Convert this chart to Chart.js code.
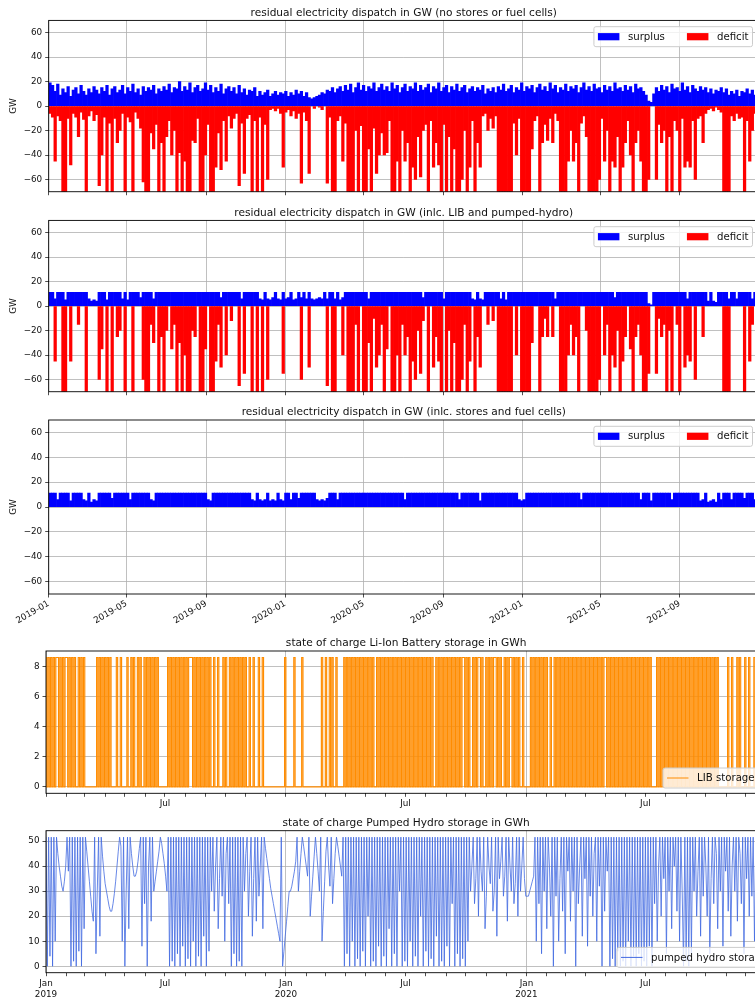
<!DOCTYPE html>
<html lang="en">
<head>
  <meta charset="utf-8">
  <title>residual electricity dispatch and storage state of charge</title>
  <style type="text/css">
    html, body {
      margin: 0;
      padding: 0;
      background-color: #ffffff;
      overflow: hidden;
    }
    #wrap {
      position: relative;
      width: 755px;
      height: 999px;
      overflow: hidden;
    }
    canvas {
      position: absolute;
      left: 0;
    }
  </style>
  <script src="https://cdn.jsdelivr.net/npm/chart.js@4.4.1/dist/chart.umd.min.js"></script>
</head>
<body>
  <div id="wrap">
    <canvas id="c1" width="780" height="200" style="top:0px"></canvas>
    <canvas id="c2" width="780" height="200" style="top:200px"></canvas>
    <canvas id="c3" width="780" height="235" style="top:400px"></canvas>
    <canvas id="c4" width="780" height="180" style="top:635px"></canvas>
    <canvas id="c5" width="780" height="184" style="top:815px"></canvas>
  </div>
  <script>
    // values, one per 4 days (dispatch) or 2 days (storage)
    const dispatchStep = 4;
    const libStep = 2;
    const phsStep = 2;

    const surplus1 = [19,17,12,18,9,14,11,16,8,13,
      15,10,17,12,9,14,11,16,13,10, 15,12,17,9,14,16,11,13,17,10,
      15,12,18,11,14,9,16,12,15,13, 17,10,14,12,16,13,18,11,15,14,
      20,12,16,13,19,11,15,17,12,14, 19,13,17,11,15,12,18,10,14,16,
      12,15,10,17,11,14,9,13,12,15, 8,12,9,11,13,8,10,12,9,11,
      10,12,8,11,9,13,10,12,8,11, 7,6,7,8,9,11,10,13,12,15,
      11,14,16,12,17,13,18,11,15,19, 13,17,12,16,14,19,12,15,18,13,
      16,12,19,14,17,11,15,18,12,16, 14,19,12,17,13,15,18,11,16,14,
      19,12,15,17,11,16,13,18,12,15, 17,11,14,16,12,15,13,17,10,14,
      12,15,11,16,13,18,12,14,17,11, 15,13,19,12,16,14,17,11,15,18,
      13,16,12,19,14,17,11,15,13,18, 12,16,14,17,11,15,19,13,16,12,
      18,14,15,11,17,13,16,12,19,14, 15,12,17,13,16,11,18,14,15,12,
      9,4,3,10,15,12,17,13,16,11, 18,14,15,12,19,13,16,11,17,14,
      12,16,13,15,11,14,10,13,12,15, 11,14,9,12,10,13,8,12,11,14,
      10,13,9,12];
    const deficit1 = [-6,-9,-45,-8,-12,-80,-80,-10,-48,-6,
      -9,-25,-5,-11,-80,-8,-4,-12,-7,-65, -40,-9,-80,-14,-80,-10,-30,-20,-6,-80,
      -9,-13,-80,-5,-10,-18,-62,-80,-80,-22, -35,-15,-80,-30,-80,-25,-12,-40,-20,-80,
      -38,-80,-45,-80,-80,-28,-30,-10,-80,-80, -40,-15,-80,-80,-50,-22,-52,-12,-45,-8,
      -18,-10,-6,-65,-14,-55,-10,-7,-80,-12, -80,-9,-80,-15,-60,-3,-2,-4,-2,-6,
      -50,-5,-3,-8,-4,-10,-6,-63,-5,-12, -55,0,-2,0,-1,-3,0,-63,-9,-80,
      -80,-12,-8,-45,-14,-80,-80,-80,-20,-80, -16,-80,-80,-35,-80,-18,-55,-40,-22,-40,
      -38,-12,-80,-80,-45,-80,-20,-45,-30,-80, -50,-60,-25,-58,-20,-15,-80,-12,-50,-30,
      -48,-80,-15,-80,-25,-80,-35,-80,-70,-60, -20,-80,-50,-12,-80,-30,-50,-8,-6,-20,
      -10,-18,-8,-80,-80,-80,-80,-80,-80,-14, -40,-10,-80,-80,-80,-80,-35,-12,-8,-80,
      -30,-15,-28,-10,-30,-6,-12,-80,-80,-80, -45,-20,-45,-30,-80,-14,-8,-25,-80,-80,
      -80,-80,-60,-10,-45,-20,-80,-45,-50,-25, -80,-50,-30,-12,-40,-80,-30,-20,-45,-80,
      -80,-60,0,0,-60,-15,-30,-20,-80,-25, -80,-12,-20,-80,-10,-50,-45,-50,-12,-60,
      -10,-8,-30,-6,-3,-2,-4,-1,-3,-5, -80,-80,-80,-8,-12,-6,-10,-9,-80,-12,
      -45,-20,-6,-30];

    const surplus2 = [11.3,11.3,6,11.3,11.3,11.3,5,11.3,11.3,11.3,
      11.3,11.3,11.3,11.3,11.3,6,4,5,4,11.3, 11.3,11.3,5,11.3,11.3,11.3,11.3,11.3,6,11.3,
      5,11.3,11.3,11.3,11.3,7,11.3,11.3,11.3,11.3, 6,11.3,11.3,11.3,11.3,11.3,11.3,11.3,11.3,11.3,
      11.3,11.3,11.3,11.3,11.3,11.3,11.3,11.3,11.3,11.3, 11.3,11.3,11.3,11.3,11.3,11.3,7,11.3,11.3,11.3,
      11.3,11.3,11.3,11.3,6,11.3,11.3,11.3,11.3,11.3, 11.3,6,5,11.3,6,5,7,11.3,6,5,
      11.3,6,7,11.3,5,6,11.3,7,11.3,6, 11.3,6,5,6,7,6,11.3,6,11.3,11.3,
      6,11.3,5,7,11.3,11.3,11.3,11.3,11.3,11.3, 11.3,11.3,11.3,6,11.3,11.3,11.3,11.3,11.3,11.3,
      11.3,11.3,11.3,11.3,11.3,11.3,11.3,11.3,11.3,11.3, 11.3,11.3,11.3,11.3,7,11.3,11.3,11.3,11.3,11.3,
      11.3,11.3,6,11.3,11.3,11.3,11.3,11.3,11.3,11.3, 11.3,11.3,11.3,6,5,11.3,6,5,11.3,11.3,
      11.3,11.3,11.3,11.3,6,11.3,5,11.3,11.3,11.3, 11.3,11.3,11.3,11.3,11.3,11.3,11.3,11.3,11.3,11.3,
      11.3,11.3,11.3,11.3,11.3,6,11.3,11.3,11.3,11.3, 11.3,11.3,11.3,11.3,11.3,11.3,11.3,11.3,11.3,11.3,
      11.3,11.3,11.3,11.3,11.3,11.3,11.3,11.3,7,11.3, 11.3,11.3,11.3,11.3,11.3,11.3,11.3,11.3,11.3,11.3,
      11.3,2,1,11.3,11.3,11.3,11.3,11.3,11.3,11.3, 11.3,11.3,11.3,11.3,11.3,11.3,6,11.3,11.3,11.3,
      11.3,11.3,11.3,11.3,4,11.3,4,3,11.3,11.3, 11.3,11.3,6,11.3,11.3,6,11.3,11.3,11.3,11.3,
      11.3,6,11.3,11.3];
    const deficit2 = [0,0,-45,0,0,-80,-80,0,-45,0,
      0,-15,0,0,-80,0,0,0,0,-60, -35,0,-80,0,-80,0,-25,-20,0,-80,
      0,0,-80,0,0,0,-60,-80,-80,-15, -30,0,-80,-25,-80,-20,0,-35,-15,-80,
      -30,-80,-40,-80,-80,-20,-25,0,-80,-80, -35,0,-80,-80,-45,-15,-50,0,-40,0,
      -12,0,0,-65,0,-55,0,0,-80,0, -80,0,-80,0,-60,0,0,0,0,0,
      -55,0,0,0,0,0,0,-60,0,0, -50,0,0,0,0,0,0,-65,0,-80,
      -80,0,0,-40,0,-80,-80,-80,-15,-80, 0,-80,-80,-30,-80,-10,-50,-40,-15,-70,
      -35,0,-80,-80,-40,-80,-15,-40,-25,-80, -45,-60,-20,-55,-12,0,-80,0,-50,-25,
      -45,-80,0,-80,-20,-80,-30,-80,-70,-60, -15,-80,-45,0,-80,-25,-50,0,0,-15,
      0,-12,0,-80,-80,-80,-80,-80,-80,0, -40,0,-80,-80,-80,-80,-30,0,0,-80,
      -25,-10,-25,0,-25,0,0,-80,-80,-80, -40,-15,-40,-25,-80,0,0,-20,-80,-80,
      -80,-80,-60,0,-40,-15,-80,-40,-50,-20, -80,-45,-25,0,-35,-80,-25,-15,-40,-80,
      -80,-55,0,0,-55,-10,-25,-15,-80,-20, -80,0,-15,-80,0,-50,-40,-45,0,-60,
      0,0,-25,0,0,0,0,0,0,0, -80,-80,-80,0,0,0,0,0,-80,0,
      -45,-15,0,-25];

    const surplus3 = [11.3,11.3,11.3,6,11.3,11.3,11.3,11.3,5,11.3,
      11.3,11.3,11.3,6,5,11.3,4,6,5,11.3, 11.3,11.3,11.3,11.3,7,11.3,11.3,11.3,11.3,11.3,
      11.3,6,11.3,11.3,11.3,11.3,11.3,11.3,11.3,6, 5,11.3,11.3,11.3,11.3,11.3,11.3,11.3,11.3,11.3,
      11.3,11.3,11.3,11.3,11.3,11.3,11.3,11.3,11.3,11.3, 11.3,6,5,11.3,11.3,11.3,11.3,11.3,11.3,11.3,
      11.3,11.3,11.3,11.3,11.3,11.3,11.3,11.3,6,5, 11.3,6,5,6,11.3,5,6,5,11.3,6,
      5,11.3,11.3,6,11.3,11.3,7,11.3,11.3,11.3, 11.3,11.3,11.3,6,5,6,5,7,11.3,11.3,
      11.3,6,11.3,11.3,11.3,11.3,11.3,11.3,11.3,11.3, 11.3,11.3,11.3,11.3,11.3,11.3,11.3,11.3,11.3,11.3,
      11.3,11.3,11.3,11.3,11.3,11.3,11.3,6,11.3,11.3, 11.3,11.3,11.3,11.3,11.3,11.3,11.3,11.3,11.3,11.3,
      11.3,11.3,11.3,11.3,11.3,11.3,11.3,11.3,6,11.3, 11.3,11.3,11.3,11.3,11.3,11.3,5,11.3,11.3,11.3,
      11.3,11.3,11.3,11.3,11.3,11.3,11.3,11.3,11.3,11.3, 11.3,6,5,6,11.3,11.3,11.3,11.3,11.3,11.3,
      11.3,11.3,11.3,11.3,11.3,11.3,11.3,11.3,11.3,11.3, 11.3,11.3,11.3,11.3,11.3,6,11.3,11.3,11.3,11.3,
      11.3,11.3,11.3,11.3,11.3,11.3,11.3,11.3,11.3,11.3, 11.3,11.3,11.3,11.3,11.3,11.3,11.3,11.3,6,11.3,
      11.3,11.3,5,11.3,11.3,11.3,11.3,11.3,11.3,11.3, 6,11.3,11.3,11.3,11.3,11.3,11.3,11.3,11.3,11.3,
      11.3,5,6,11.3,4,5,6,4,11.3,6, 11.3,11.3,11.3,6,11.3,11.3,11.3,11.3,7,11.3,
      11.3,11.3,6,11.3];
    const deficit3 = []; // fully covered by stores and fuel cells

    const libSoc = [8.6,0,8.6,0,8.6,0,8.6,0,8.6,8.6,0,8.6,0,8.6,0,8.6,8.6,0,8.6,0,
      8.6,0,8.6,0,0,8.6,0,8.6,0,8.6,0,0,0,0,0,0,0,0,0,8.6,
      0,8.6,0,8.6,0,8.6,0,8.6,0,8.6,0,0,0,0,8.6,0,0,8.6,0,0,
      0,0,8.6,0,0,8.6,0,8.6,0,0,8.6,0,8.6,0,0,8.6,0,8.6,0,8.6,
      0,8.6,0,8.6,0,8.6,0,0,0,0,0,0,0,8.6,0,8.6,0,8.6,0,8.6,
      0,8.6,0,8.6,0,8.6,0,8.6,0,8.6,8.6,8.6,0,8.6,0,8.6,0,8.6,0,8.6,
      0,8.6,0,8.6,0,8.6,0,0,8.6,0,0,8.6,0,0,0,8.6,0,8.6,0,0,
      8.6,0,8.6,0,8.6,0,8.6,0,8.6,0,8.6,0,8.6,0,0,8.6,0,0,8.6,0,
      0,0,8.6,0,0,8.6,0,0,0,0,0,0,0,0,0,0,0,0,0,0,
      0,0,8.6,0,0,0,0,0,0,8.6,0,0,0,0,0,8.6,0,0,0,0,
      0,0,0,0,0,0,0,0,0,0,8.6,0,0,8.6,0,0,8.6,0,8.6,0,
      0,8.6,0,0,0,0,0,8.6,0,8.6,0,8.6,0,8.6,0,8.6,0,8.6,0,8.6,
      0,8.6,0,8.6,0,8.6,0,8.6,0,8.6,0,0,8.6,0,8.6,0,8.6,0,8.6,0,
      8.6,0,8.6,0,8.6,0,8.6,0,8.6,0,8.6,0,8.6,0,8.6,0,8.6,0,8.6,0,
      8.6,0,8.6,0,8.6,0,8.6,0,8.6,0,8.6,0,8.6,0,8.6,0,0,8.6,0,8.6,
      0,8.6,0,8.6,0,8.6,0,8.6,0,8.6,0,8.6,0,8.6,0,8.6,0,8.6,8.6,0,
      8.6,0,8.6,0,0,8.6,0,8.6,0,8.6,8.6,0,8.6,0,0,8.6,0,8.6,0,8.6,
      0,8.6,8.6,0,8.6,0,8.6,0,0,8.6,0,8.6,0,8.6,8.6,0,8.6,0,8.6,0,
      8.6,0,0,8.6,0,0,0,0,0,8.6,0,8.6,0,8.6,0,8.6,0,8.6,0,8.6,
      0,8.6,0,0,8.6,0,0,8.6,0,8.6,0,8.6,0,8.6,0,8.6,0,8.6,0,8.6,
      0,8.6,0,8.6,0,8.6,0,8.6,0,8.6,0,8.6,0,8.6,0,8.6,0,8.6,0,8.6,
      0,8.6,0,8.6,0,8.6,8.6,0,8.6,0,8.6,0,8.6,0,8.6,0,8.6,0,8.6,0,
      8.6,0,8.6,0,8.6,0,8.6,0,8.6,0,8.6,0,8.6,0,8.6,0,8.6,0,8.6,0,
      8.6,0,0,0,0,8.6,0,8.6,0,8.6,0,8.6,0,8.6,0,8.6,0,8.6,0,8.6,
      0,8.6,0,8.6,0,8.6,0,8.6,0,8.6,0,8.6,0,8.6,0,8.6,0,8.6,0,8.6,
      0,8.6,0,8.6,0,8.6,0,8.6,0,8.6,0,8.6,0,0,0,0,0,0,0,8.6,
      0,0,8.6,0,0,0,8.6,0,8.6,0,0,0,8.6,0,0,8.6,0,0,0,8.6,
      0,0,8.6,0,0,8.6,0,0];

    const phsSoc = [51.6,0,51.6,4,51.6,0,51.6,10,51.6,45,40,36,32,30,34,40,51.6,38,51.6,0,
      51.6,2,51.6,0,51.6,6,51.6,0,51.6,15,51.6,46,40,34,28,22,18,51.6,5,30,
      51.6,12,51.6,44,38,33,30,27,24,22,22,25,29,34,40,46,51.6,48,10,51.6,
      0,30,51.6,15,51.6,45,40,36,36,38,42,47,51.6,8,51.6,25,51.6,0,40,51.6,
      18,51.6,30,34,38,42,46,51.6,49,45,41,36,30,51.6,0,51.6,2,51.6,0,51.6,
      5,51.6,0,51.6,8,51.6,0,51.6,3,51.6,0,51.6,10,51.6,0,51.6,4,51.6,0,51.6,
      12,51.6,0,51.6,6,51.6,30,51.6,22,40,51.6,15,35,51.6,28,51.6,10,45,51.6,25,
      51.6,0,51.6,5,51.6,0,51.6,2,51.6,0,51.6,30,45,51.6,20,38,51.6,12,35,51.6,
      18,51.6,28,40,51.6,15,51.6,47,43,39,35,31,28,25,22,19,16,13,10,
      51.6,0,6,12,18,24,30,30,32,35,38,42,51.6,30,38,45,51.6,48,44,40,
      36,51.6,20,28,36,44,51.6,45,38,30,51.6,10,22,34,46,51.6,40,32,51.6,25,
      35,45,51.6,48,44,40,36,51.6,0,51.6,5,51.6,0,51.6,10,51.6,0,51.6,3,51.6,
      0,51.6,6,51.6,0,51.6,20,51.6,0,51.6,2,51.6,0,51.6,8,51.6,0,51.6,4,51.6,
      0,51.6,15,51.6,0,51.6,5,51.6,0,51.6,30,51.6,0,51.6,2,51.6,0,51.6,10,51.6,
      0,51.6,4,51.6,0,51.6,20,51.6,0,51.6,6,51.6,0,51.6,3,51.6,0,51.6,12,51.6,
      0,51.6,2,51.6,0,51.6,8,51.6,0,51.6,25,51.6,0,51.6,5,51.6,0,51.6,3,51.6,
      0,51.6,10,51.6,30,40,51.6,25,35,51.6,20,51.6,38,30,51.6,15,28,51.6,40,33,
      51.6,22,30,51.6,12,51.6,35,42,51.6,28,36,51.6,18,51.6,40,30,51.6,25,33,51.6,
      20,51.6,30,40,51.6,35,28,28,28,30,32,34,36,51.6,10,51.6,25,51.6,5,51.6,
      30,51.6,15,51.6,40,20,51.6,0,51.6,28,51.6,10,35,51.6,22,51.6,5,51.6,38,51.6,
      18,51.6,30,51.6,0,51.6,25,40,51.6,12,51.6,35,51.6,8,51.6,28,51.6,20,45,51.6,
      10,51.6,32,51.6,0,51.6,22,51.6,38,51.6,0,51.6,3,51.6,0,51.6,6,51.6,0,51.6,
      2,51.6,0,51.6,10,51.6,0,51.6,4,51.6,0,51.6,5,51.6,0,51.6,2,51.6,0,51.6,
      8,51.6,0,51.6,25,51.6,10,40,51.6,20,51.6,35,51.6,5,51.6,30,51.6,15,51.6,40,
      51.6,22,51.6,10,51.6,30,0,51.6,2,51.6,0,51.6,5,51.6,30,51.6,20,38,51.6,12,
      51.6,28,51.6,40,20,51.6,5,35,51.6,25,51.6,45,15,51.6,30,51.6,8,51.6,38,51.6,
      22,51.6,12,40,51.6,30,51.6,18,51.6,45,25,51.6,5,51.6,35,51.6,20,51.6,28,51.6,
      10,51.6,40,51.6,22,51.6,30,51.6];

    // axis ticks
    const dispatchTicks = ['2019-01','2019-05','2019-09','2020-01','2020-05','2020-09','2021-01','2021-05','2021-09'];
    const storageYears = ['2019','2020','2021'];
    const monthNames = ['Jan','Feb','Mar','Apr','May','Jun','Jul','Aug','Sep','Oct','Nov','Dec'];
    const gwTicks = [-60,-40,-20,0,20,40,60];
    const libTicks = [0,2,4,6,8];
    const phsTicks = [0,10,20,30,40,50];

    const start = Date.UTC(2019, 0, 1);
    const endDay = 1096 - 1 / 24;
    function dayOf(label) {
      const p = label.split('-').map(Number);
      return (Date.UTC(p[0], p[1] - 1, 1) - start) / 86400000;
    }
    function pts(arr, step, off, skipZero) {
      return arr.map((v, i) => ({x: i * step + off, y: (skipZero && v === 0) ? null : v}));
    }
    function fmt(v) {
      return v < 0 ? '\u2212' + (-v) : String(v);
    }

    Chart.defaults.font.family = "'DejaVu Sans', sans-serif";
    Chart.defaults.color = '#111111';

    const axTitle = {
      id: 'axTitle',
      afterDraw(chart, args, o) {
        if (!o.text) return;
        const a = chart.chartArea, ctx = chart.ctx;
        ctx.save();
        ctx.font = '10.6px "DejaVu Sans"';
        ctx.fillStyle = '#111111';
        ctx.textAlign = 'center';
        ctx.textBaseline = 'alphabetic';
        ctx.fillText(o.text, (a.left + a.right) / 2, a.top - 4.8);
        ctx.restore();
      }
    };
    const frame = {
      id: 'frame',
      afterDatasetsDraw(chart) {
        const a = chart.chartArea, ctx = chart.ctx;
        ctx.save();
        ctx.strokeStyle = '#000000';
        ctx.lineWidth = 0.9;
        ctx.strokeRect(a.left, a.top, a.right - a.left, a.bottom - a.top);
        ctx.restore();
      }
    };
    const boxLegend = {
      id: 'boxLegend',
      afterDraw(chart, args, o) {
        if (!o.items) return;
        const a = chart.chartArea, ctx = chart.ctx;
        const pad = 4, hw = 21.5, gap = 8.5, col = 22, h = 20;
        ctx.save();
        ctx.font = '10.2px "DejaVu Sans"';
        let w = pad * 2;
        o.items.forEach((it, k) => { w += hw + gap + ctx.measureText(it.label).width + (k ? col : 0); });
        const x0 = o.fromRight != null ? a.right + o.fromRight : a.right - o.inset - w;
        const y0 = o.lower ? a.bottom - o.inset - h : a.top + o.inset;
        ctx.fillStyle = 'rgba(255,255,255,0.8)';
        ctx.strokeStyle = '#cccccc';
        ctx.lineWidth = 1;
        ctx.beginPath();
        if (ctx.roundRect) ctx.roundRect(x0, y0, w, h, 2); else ctx.rect(x0, y0, w, h);
        ctx.fill();
        ctx.stroke();
        let x = x0 + pad;
        const cy = y0 + h / 2;
        o.items.forEach((it, k) => {
          if (k) x += col;
          if (it.line) {
            ctx.strokeStyle = it.color;
            ctx.lineWidth = 1;
            ctx.beginPath();
            ctx.moveTo(x, cy);
            ctx.lineTo(x + hw, cy);
            ctx.stroke();
          } else {
            ctx.fillStyle = it.color;
            ctx.fillRect(x, cy - 3.6, hw, 7.2);
          }
          x += hw + gap;
          ctx.fillStyle = '#111111';
          ctx.textAlign = 'left';
          ctx.textBaseline = 'middle';
          ctx.fillText(it.label, x, cy + 0.5);
          x += ctx.measureText(it.label).width;
        });
        ctx.restore();
      }
    };
    Chart.register(axTitle, frame, boxLegend);

    function yAxis(min, max, ticks, width, title) {
      return {
        min: min,
        max: max,
        afterBuildTicks: s => { s.ticks = ticks.map(v => ({value: v})); },
        afterFit: s => { s.width = width; },
        grid: { color: '#b0b0b0', lineWidth: 0.8, tickLength: 3.5, tickColor: '#222222' },
        border: { display: false },
        ticks: { font: { size: 8.8 }, padding: 3, callback: v => fmt(v) },
        title: title ? { display: true, text: title, font: { size: 8.8 }, padding: { top: 8.7, bottom: 0 } } : { display: false }
      };
    }

    function dispatchX(showDates, height) {
      return {
        type: 'linear',
        min: 0,
        max: endDay,
        offset: false,
        afterBuildTicks: s => { s.ticks = dispatchTicks.map(t => ({value: dayOf(t)})); },
        afterFit: s => { s.height = height; },
        grid: { color: '#b0b0b0', lineWidth: 0.8, tickLength: 3.5, tickColor: '#222222', offset: false },
        border: { display: false },
        ticks: {
          display: showDates, autoSkip: false, minRotation: 30, maxRotation: 30, padding: 1,
          font: { size: 8.8 },
          callback: (v, i) => dispatchTicks[i]
        }
      };
    }

    function storageX(showYears, height) {
      const ticks = [];
      storageYears.forEach(y => monthNames.forEach((m, k) => {
        let label = '';
        if (m === 'Jan' && showYears) label = [m, y];
        if (m === 'Jul') label = m;
        ticks.push({ value: dayOf(y + '-' + (k + 1)), label: label, major: m === 'Jan' });
      }));
      return {
        type: 'linear',
        min: 0,
        max: endDay,
        offset: false,
        afterBuildTicks: s => { s.ticks = ticks.map(t => ({value: t.value})); },
        afterFit: s => { s.height = height; },
        grid: {
          color: c => (ticks[c.index] && ticks[c.index].major) ? '#b0b0b0' : 'rgba(0,0,0,0)',
          lineWidth: 0.8, tickLength: 3.5, tickColor: '#222222'
        },
        border: { display: false },
        ticks: {
          autoSkip: false, minRotation: 0, maxRotation: 0, padding: 1.5,
          font: { size: 8.8, lineHeight: 1.3 },
          callback: (v, i) => ticks[i].label
        }
      };
    }

    function dispatchChart(id, title, surplus, deficit, padTop, xHeight, showDates) {
      const bar = { grouped: false, barPercentage: 1, categoryPercentage: 1, borderWidth: 0 };
      new Chart(document.getElementById(id), {
        type: 'bar',
        data: {
          datasets: [
            Object.assign({ label: 'surplus', data: pts(surplus, dispatchStep, dispatchStep / 2, true), backgroundColor: '#0000ff' }, bar),
            Object.assign({ label: 'deficit', data: pts(deficit, dispatchStep, dispatchStep / 2, true), backgroundColor: '#ff0000' }, bar)
          ]
        },
        options: {
          responsive: false,
          animation: false,
          events: [],
          layout: { padding: { top: padTop, right: 21.2, left: 0, bottom: 0 }, autoPadding: false },
          plugins: {
            legend: { display: false },
            tooltip: { enabled: false },
            axTitle: { text: title },
            boxLegend: { items: [{label: 'surplus', color: '#0000ff'}, {label: 'deficit', color: '#ff0000'}], inset: 6.3 }
          },
          scales: {
            x: dispatchX(showDates, xHeight),
            y: yAxis(-70, 70, gwTicks, 48.7, 'GW')
          }
        }
      });
    }

    function storageChart(id, title, values, step, color, lineWidth, stepped, yMin, yMax, ticks, padTop, xHeight, showYears, legendLabel, fromRight) {
      new Chart(document.getElementById(id), {
        type: 'line',
        data: {
          datasets: [{
            label: legendLabel,
            data: pts(values, step, 0, false),
            borderColor: color,
            borderWidth: lineWidth,
            pointRadius: 0,
            tension: 0,
            stepped: stepped,
            fill: false
          }]
        },
        options: {
          responsive: false,
          animation: false,
          events: [],
          layout: { padding: { top: padTop, right: 13.7, left: 0, bottom: 0 }, autoPadding: false },
          plugins: {
            legend: { display: false },
            tooltip: { enabled: false },
            axTitle: { text: title },
            boxLegend: { items: [{label: legendLabel, color: color, line: true}], inset: 5.3, lower: true, fromRight: fromRight }
          },
          scales: {
            x: storageX(showYears, xHeight),
            y: yAxis(yMin, yMax, ticks, 46, null)
          }
        }
      });
    }

    dispatchChart('c1', 'residual electricity dispatch in GW (no stores or fuel cells)', surplus1, deficit1, 20.4, 5.8, false);
    dispatchChart('c2', 'residual electricity dispatch in GW (inlc. LIB and pumped-hydro)', surplus2, deficit2, 20.4, 5.8, false);
    dispatchChart('c3', 'residual electricity dispatch in GW (inlc. stores and fuel cells)', surplus3, deficit3, 20, 41, true);
    storageChart('c4', 'state of charge Li-Ion Battery storage in GWh', libSoc, libStep, '#ff8c00', 1.15, 'middle',
      -0.43, 9.03, libTicks, 16, 21.7, false, 'LIB storage', -103.3);
    storageChart('c5', 'state of charge Pumped Hydro storage in GWh', phsSoc, phsStep, '#4169e1', 0.8, false,
      -2.58, 54.18, phsTicks, 15.7, 26.3, true, 'pumped hydro storage', -149.3);
  </script>
</body>
</html>
